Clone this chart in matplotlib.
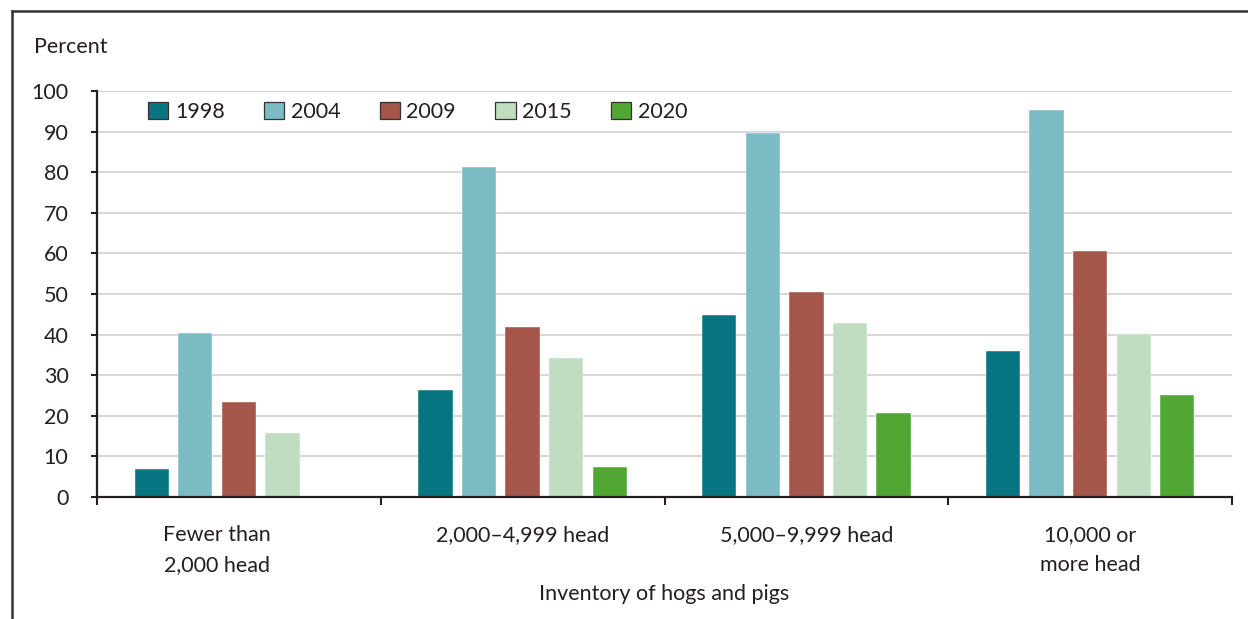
import numpy as np
import matplotlib
matplotlib.use("Agg")
import matplotlib.pyplot as plt
from matplotlib.lines import Line2D
from matplotlib.transforms import ScaledTranslation

plt.rcParams['font.family'] = ['Lato', 'DejaVu Sans']

categories = ["Fewer than\n2,000 head", "2,000\u20134,999 head",
              "5,000\u20139,999 head", "10,000 or\nmore head"]
years = ["1998", "2004", "2009", "2015", "2020"]
values = {
    "1998": [6.8, 26.4, 44.8, 36.0],
    "2004": [40.5, 81.4, 89.7, 95.4],
    "2009": [23.3, 41.9, 50.6, 60.5],
    "2015": [15.7, 34.3, 42.9, 40.2],
    "2020": [np.nan, 7.4, 20.6, 25.2],
}
colors = ["#077682", "#7bbcc4", "#a4564b", "#c0ddc1", "#51a733"]
yticks = [0, 10, 20, 30, 40, 50, 60, 70, 80, 90, 100]

TEXT = "#231f20"
FS = 15.5
W, H, DPI = 1248, 619, 100
fig = plt.figure(figsize=(W / DPI, H / DPI), dpi=DPI)
ax = fig.add_axes([97 / W, 1 - 497 / H, (1232 - 97) / W, (497 - 91) / H])

x = np.arange(len(categories))
step = 0.1535
width = 0.121
for j, (yr, col) in enumerate(zip(years, colors)):
    ax.bar(x + (j - 2) * step, values[yr], width, color=col,
           edgecolor="white", linewidth=0.3, label=yr, zorder=3)

ax.set_xlim(-0.5, len(categories) - 0.5)
ax.set_ylim(0, 100)
ax.set_yticks(yticks)
ax.yaxis.grid(True, color="#d0d0d0", linewidth=1.2, zorder=0)
ax.set_axisbelow(True)

for s in ("top", "right"):
    ax.spines[s].set_visible(False)
for s in ("left", "bottom"):
    ax.spines[s].set_color(TEXT)
    ax.spines[s].set_linewidth(1.6)
    ax.spines[s].set_zorder(4)

ax.tick_params(axis="y", direction="out", length=4.5, width=1.5,
               color=TEXT, labelsize=FS, labelcolor=TEXT, pad=16)

ax.set_xticks(x)
ax.set_xticklabels(categories, fontsize=FS, color=TEXT, linespacing=1.65)
ax.set_xticks(np.arange(-0.5, len(categories), 1.0), minor=True)
ax.tick_params(axis="x", which="major", length=0, pad=20)
ax.tick_params(axis="x", which="minor", direction="out", length=6,
               width=1.5, color=TEXT)
# First category label sits a little left of its group
lbl0 = ax.get_xticklabels()[0]
lbl0.set_transform(lbl0.get_transform() +
                   ScaledTranslation(-22 / DPI, 0, fig.dpi_scale_trans))

ax.set_xlabel("Inventory of hogs and pigs", fontsize=FS, color=TEXT,
              labelpad=6)

fig.text(34 / W, 1 - 47 / H, "Percent", fontsize=FS, color=TEXT,
         ha="left", va="center")

leg = ax.legend(loc="center left", bbox_to_anchor=((148 - 97) / (1232 - 97), 0.948),
                ncol=5, frameon=False, fontsize=FS, handlelength=0.95,
                handleheight=0.85, handletextpad=0.3, columnspacing=1.82,
                borderaxespad=0, borderpad=0)
for h in leg.legend_handles:
    h.set_edgecolor("#333333")
    h.set_linewidth(0.9)
for t in leg.get_texts():
    t.set_color(TEXT)

# Outer frame around the figure (left and top edges)
fig.add_artist(Line2D([12 / W, 12 / W], [0, 1 - 11 / H], transform=fig.transFigure,
                      color="#333333", linewidth=1.8, solid_capstyle="projecting"))
fig.add_artist(Line2D([12 / W, 1], [1 - 11 / H, 1 - 11 / H], transform=fig.transFigure,
                      color="#333333", linewidth=1.8, solid_capstyle="projecting"))

fig.savefig("out.png", dpi=DPI, facecolor="white")
